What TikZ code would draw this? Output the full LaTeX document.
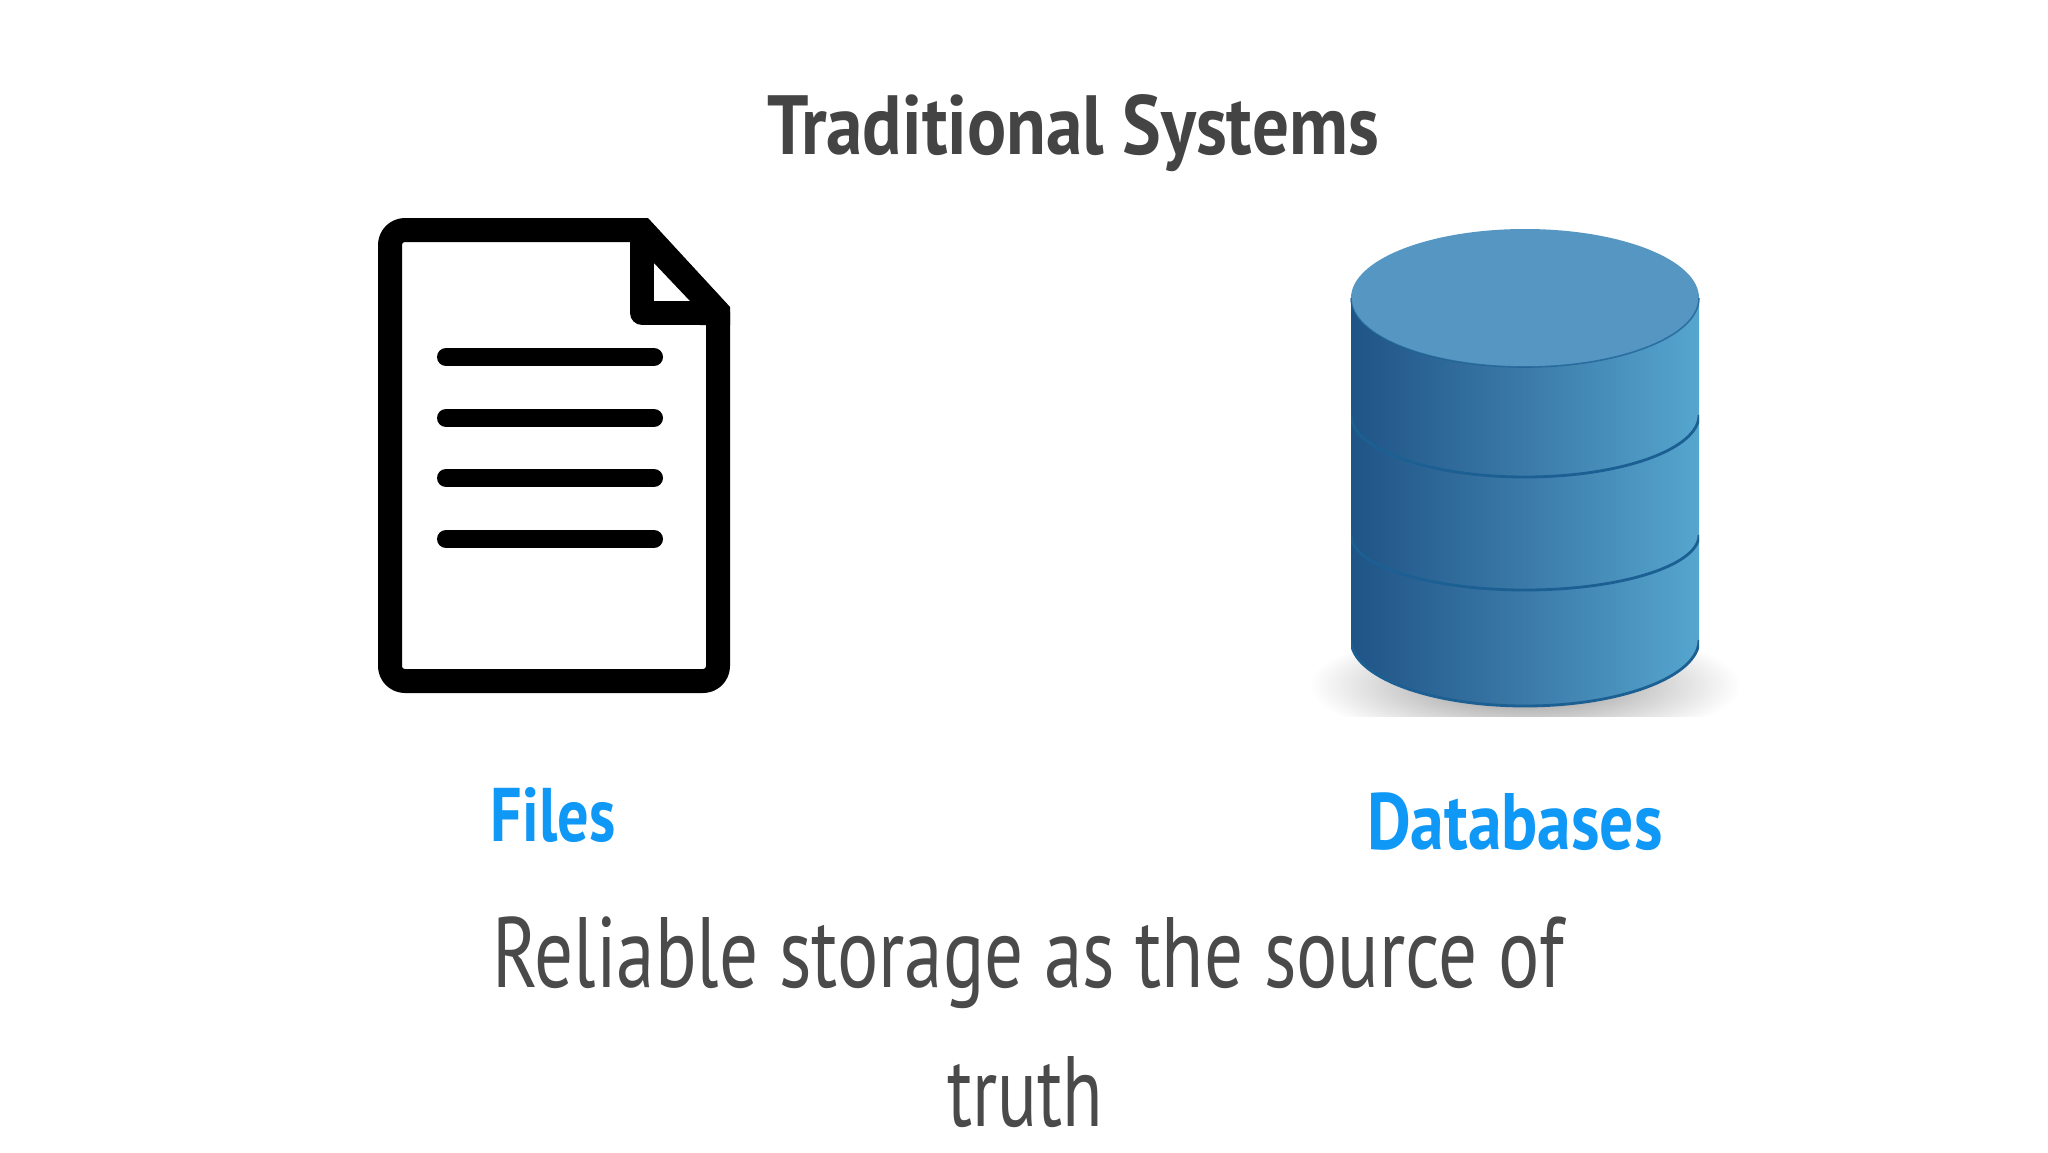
\documentclass[tikz,border=0pt]{standalone}
\usepackage{fontspec}
\setmainfont{PT Sans}
\definecolor{inktitle}{HTML}{444444}
\definecolor{inkbody}{HTML}{4A4A4A}
\definecolor{inkblue}{HTML}{1098F7}
\definecolor{dbdark}{HTML}{1F5486}
\definecolor{dbmid}{HTML}{3B7AA8}
\definecolor{dblight}{HTML}{55A6CF}
\definecolor{dbtop}{HTML}{5596C2}
\definecolor{dbedge}{HTML}{1C5F92}
\tikzset{
  x=0.5pt,y=-0.5pt,
  docstroke/.style={draw=black,line width=12pt,line join=round},
  docline/.style={draw=black,line width=9pt,line cap=round},
  seam/.style={draw=dbedge,line width=1.4pt,line cap=butt},
  label/.style={inner sep=0pt,anchor=center,transform shape},
}
\begin{document}
\begin{tikzpicture}
\useasboundingbox (0,0) rectangle (2048,1152);
\fill[white] (0,0) rectangle (2048,1152);
% document icon
\draw[docstroke] (642,230) -- (405,230) arc[start angle=-90,end angle=-180,radius=15] -- (390,666) arc[start angle=180,end angle=90,radius=15] -- (703,681) arc[start angle=90,end angle=0,radius=15] -- (718,312) -- cycle;
\draw[docstroke] (642,230) -- (642,313) -- (718,313);
\fill[black] (642,218) -- (648,218) -- (730,307) -- (730,325) -- (700,325) -- (690,301) -- (653,262) -- cycle;
\draw[docline] (446,357) -- (654,357);
\draw[docline] (446,418) -- (654,418);
\draw[docline] (446,478) -- (654,478);
\draw[docline] (446,539) -- (654,539);
% shadow
\begin{scope}
\clip (1290,620) rectangle (1740,716);
\shade[inner color=black!45,outer color=white] (1525,685) ellipse[x radius=216,y radius=60];
\end{scope}
% cylinder
\path[left color=dbdark,right color=dblight,middle color=dbmid,shading angle=90] (1351,298) -- (1351,640) arc[start angle=180,end angle=0,x radius=174,y radius=66] -- (1699,298) -- cycle;
\begin{scope}
\clip (1351,220) rectangle (1699,720);
\draw[seam] (1351,640) arc[start angle=180,end angle=0,x radius=174,y radius=66];
\draw[seam] (1351,415) arc[start angle=180,end angle=0,x radius=174,y radius=62];
\draw[seam] (1351,535) arc[start angle=180,end angle=0,x radius=174,y radius=55];
\end{scope}
\fill[dbtop] (1525,298) ellipse[x radius=174,y radius=69];
\draw[seam,draw opacity=.7,line width=.8pt] (1351,298) arc[start angle=180,end angle=0,x radius=174,y radius=69];
% text
\node[label,text=inktitle,font=\bfseries\fontsize{42}{48}\selectfont,xscale=.87] (title) at (1073,133) {Traditional Systems};
\node[label,text=inkblue,font=\bfseries\fontsize{38}{44}\selectfont,xscale=.82] (files) at (553,815) {Files};
\node[label,text=inkblue,font=\bfseries\fontsize{40}{46}\selectfont,xscale=.845] (databases) at (1515,822) {Databases};
\node[label,text=inkbody,font=\fontsize{50}{58}\selectfont,xscale=.772] (body1) at (1028,963) {Reliable storage as the source of};
\node[label,text=inkbody,font=\fontsize{50}{58}\selectfont,xscale=.74] (body2) at (1025,1092) {truth};
\end{tikzpicture}
\end{document}
